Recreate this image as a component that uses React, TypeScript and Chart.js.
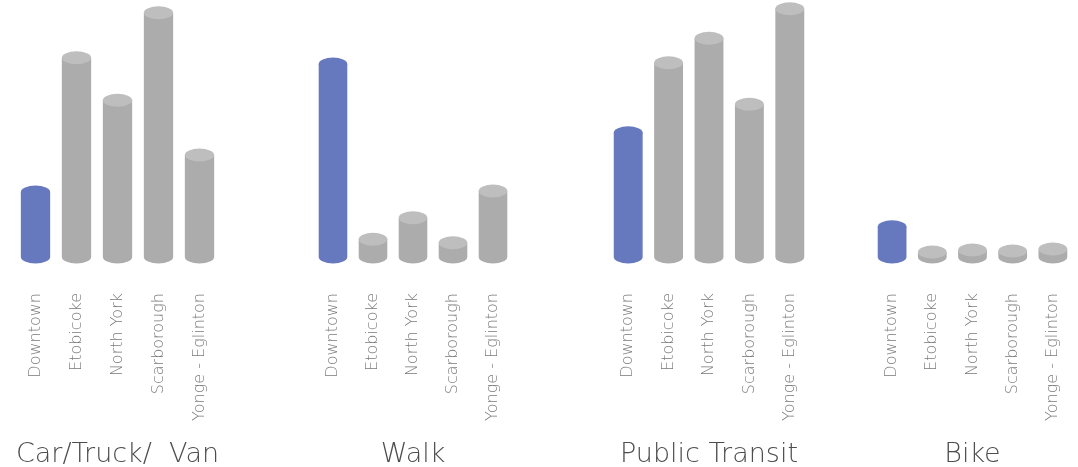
import React, { useEffect, useRef } from "react";
import { Chart, registerables } from "chart.js";

Chart.register(...registerables);

const categories = ["Downtown", "Etobicoke", "North York", "Scarborough", "Yonge - Eglinton"];
const groupTitles = ["Car/Truck/  Van", "Walk", "Public Transit", "Bike"];
const carValues = [26, 79.7, 62.7, 97.7, 40.8];
const walkValues = [77.2, 7.1, 15.7, 5.7, 26.4];
const transitValues = [49.7, 77.7, 87.5, 61.1, 99.3];
const bikeValues = [12.1, 2, 2.8, 2.4, 3.2];
const groupValues = [carValues, walkValues, transitValues, bikeValues];

const groupLayout = [
  { left: 15, width: 205 },
  { left: 313, width: 200 },
  { left: 608, width: 202 },
  { left: 872, width: 201 },
];

const BLUE = "#6679bf";
const GRAY_BODY = "#abacab";
const GRAY_TOP = "#bebebe";
const FONT = "'DejaVu Sans', sans-serif";

const cylinderPlugin = {
  id: "cylinders",
  afterDatasetsDraw(chart: any) {
    const ctx = chart.ctx;
    chart.data.datasets.forEach((ds: any, di: number) => {
      const meta = chart.getDatasetMeta(di);
      meta.data.forEach((el: any, i: number) => {
        const { x, y, base, width } = el.getProps(["x", "y", "base", "width"], true);
        const rx = width / 2;
        const ry = 6.5;
        const isBlue = i === 0;
        const body = isBlue ? BLUE : GRAY_BODY;
        const top = isBlue ? BLUE : GRAY_TOP;
        ctx.save();
        ctx.fillStyle = body;
        ctx.beginPath();
        ctx.moveTo(x - rx, y);
        ctx.lineTo(x - rx, base);
        ctx.ellipse(x, base, rx, ry, 0, Math.PI, 0, true);
        ctx.lineTo(x + rx, y);
        ctx.closePath();
        ctx.fill();
        ctx.fillStyle = top;
        ctx.beginPath();
        ctx.ellipse(x, y, rx, ry, 0, 0, Math.PI * 2);
        ctx.fill();
        ctx.restore();
      });
    });
  },
};

function Group({ idx }: { idx: number }) {
  const ref = useRef<HTMLCanvasElement | null>(null);
  useEffect(() => {
    if (!ref.current) return;
    const chart = new Chart(ref.current, {
      type: "bar",
      data: {
        labels: categories,
        datasets: [
          {
            data: groupValues[idx],
            backgroundColor: "rgba(0,0,0,0)",
            borderWidth: 0,
            barPercentage: 0.715,
            categoryPercentage: 1,
          },
        ],
      },
      options: {
        responsive: false,
        animation: false,
        layout: { padding: 0 },
        plugins: { legend: { display: false }, tooltip: { enabled: false } },
        scales: {
          y: { display: false, min: 0, max: 102.8 },
          x: {
            grid: { display: false, drawTicks: false },
            border: { display: false },
            ticks: {
              minRotation: 90,
              maxRotation: 90,
              padding: 36,
              color: "#7a7a7a",
              font: { family: FONT, size: 16, weight: 200 as any },
            },
            title: {
              display: true,
              text: groupTitles[idx],
              color: "#4d4d4d",
              padding: { top: 0, bottom: -4 },
              font: { family: FONT, size: 27, weight: 200 as any },
            },
            afterFit: (scale: any) => {
              scale.height = 210;
              scale.paddingLeft = 0;
              scale.paddingRight = 0;
            },
          },
        },
      },
      plugins: [cylinderPlugin],
    });
    return () => chart.destroy();
  }, [idx]);
  const g = groupLayout[idx];
  return (
    <canvas
      ref={ref}
      width={g.width}
      height={467}
      style={{ position: "absolute", left: g.left, top: 0, width: g.width, height: 467 }}
    />
  );
}

export default function App() {
  useEffect(() => {
    document.body.style.margin = "0";
    document.body.style.background = "#ffffff";
  }, []);
  return (
    <div style={{ position: "relative", width: 1078, height: 467, background: "#ffffff", overflow: "hidden" }}>
      {groupTitles.map((_, i) => (
        <Group key={i} idx={i} />
      ))}
    </div>
  );
}
